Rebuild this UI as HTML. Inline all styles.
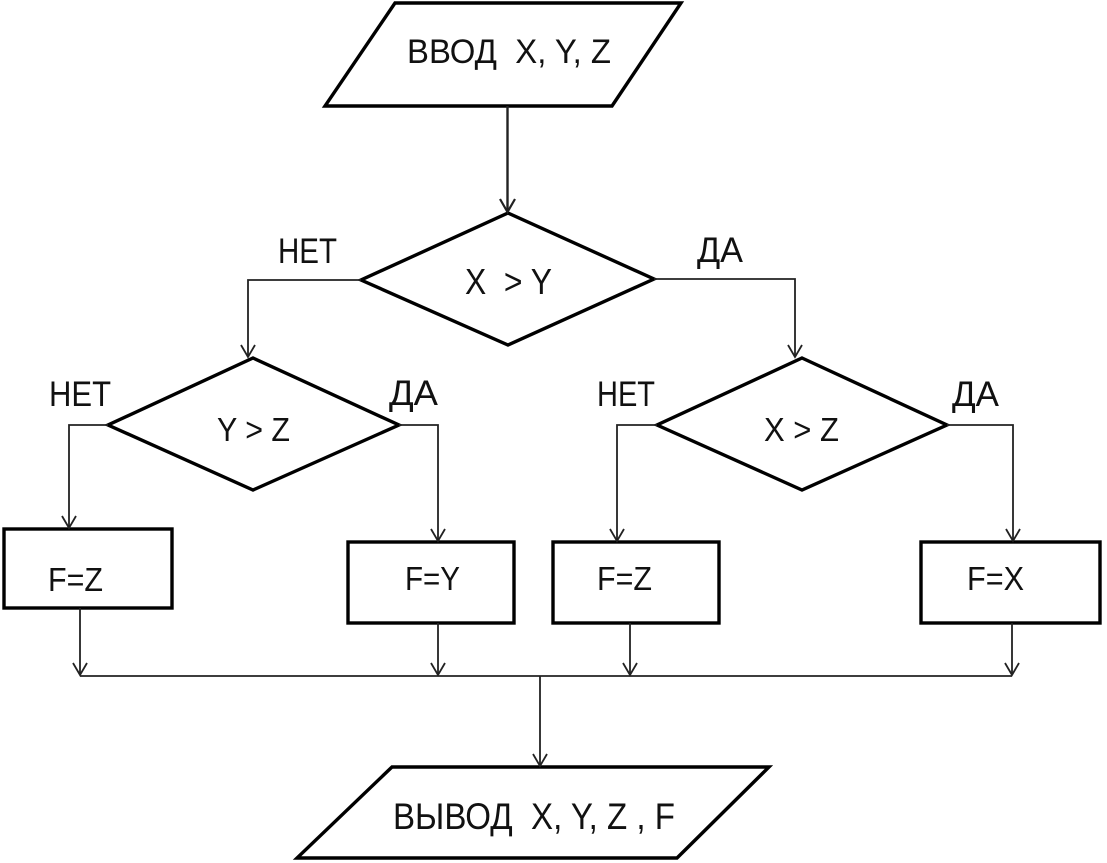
<!DOCTYPE html>
<html>
<head>
<meta charset="utf-8">
<style>
  html,body{margin:0;padding:0;background:#fff;}
  svg{display:block;}
  text{font-family:"Liberation Sans","DejaVu Sans",sans-serif;fill:#111;white-space:pre;}
</style>
</head>
<body>
<svg width="1107" height="863" viewBox="0 0 1107 863" xmlns="http://www.w3.org/2000/svg" xml:space="preserve">
  <rect width="1107" height="863" fill="#fff"/>

  <!-- Shapes -->
  <g fill="#fff" stroke="#000" stroke-width="3.4" stroke-linejoin="miter">
    <polygon points="395,3 681,3 612,106 325,106"/>
    <polygon points="508,213 654,279 508,345 361,280"/>
    <polygon points="253,358 399,425 253,490 108,425"/>
    <polygon points="802,358 947,425 802,490 657,425"/>
    <rect x="4" y="529" width="168" height="79"/>
    <rect x="348" y="542" width="166" height="81"/>
    <rect x="553" y="542" width="166" height="81"/>
    <rect x="921" y="542" width="179" height="81"/>
    <polygon points="392,767 769,767 677,858 297,858"/>
  </g>

  <!-- Connectors -->
  <g fill="none" stroke="#222" stroke-width="1.8">
    <line x1="507.5" y1="106" x2="507.5" y2="212" stroke-width="2.4"/>
    <polyline points="361,280 248,280 248,357"/>
    <polyline points="654,279 795,279 795,357"/>
    <polyline points="108,425 69,425 69,528"/>
    <polyline points="399,425 438,425 438,541"/>
    <polyline points="657,425 617,425 617,541"/>
    <polyline points="947,425 1013,425 1013,541"/>
    <line x1="80" y1="608" x2="80" y2="675"/>
    <line x1="438" y1="623" x2="438" y2="675"/>
    <line x1="630" y1="623" x2="630" y2="675"/>
    <line x1="1012" y1="623" x2="1012" y2="675"/>
    <line x1="80" y1="676" x2="1012" y2="676"/>
    <line x1="540" y1="676" x2="540" y2="766"/>
  </g>

  <!-- Arrowheads (open V) -->
  <g fill="none" stroke="#222" stroke-width="1.8">
    <polyline points="500,199 507.5,212 515,199" stroke-width="2.2"/>
    <polyline points="241,345 248,357 255,345"/>
    <polyline points="788,345 795,357 802,345"/>
    <polyline points="62,516 69,528 76,516"/>
    <polyline points="431,529 438,541 445,529"/>
    <polyline points="610,529 617,541 624,529"/>
    <polyline points="1006,529 1013,541 1020,529"/>
    <polyline points="73,663 80,675 87,663"/>
    <polyline points="431,663 438,675 445,663"/>
    <polyline points="623,663 630,675 637,663"/>
    <polyline points="1005,663 1012,675 1019,663"/>
    <polyline points="533,754 540,766 547,754"/>
  </g>

  <!-- Text -->
  <text x="407" y="63" font-size="34" textLength="204" lengthAdjust="spacingAndGlyphs">ВВОД  X, Y, Z</text>
  <text x="465" y="294" font-size="36" textLength="87" lengthAdjust="spacingAndGlyphs">X  &gt; Y</text>
  <text x="278" y="263" font-size="35" textLength="59" lengthAdjust="spacingAndGlyphs">НЕТ</text>
  <text x="697" y="262" font-size="35" textLength="46" lengthAdjust="spacingAndGlyphs">ДА</text>

  <text x="49" y="406" font-size="35" textLength="62" lengthAdjust="spacingAndGlyphs">НЕТ</text>
  <text x="389" y="405" font-size="35" textLength="49" lengthAdjust="spacingAndGlyphs">ДА</text>
  <text x="597" y="406" font-size="35" textLength="58" lengthAdjust="spacingAndGlyphs">НЕТ</text>
  <text x="952" y="406" font-size="35" textLength="47" lengthAdjust="spacingAndGlyphs">ДА</text>

  <text x="217" y="441" font-size="33" textLength="73" lengthAdjust="spacingAndGlyphs">Y &gt; Z</text>
  <text x="764" y="441" font-size="33" textLength="75" lengthAdjust="spacingAndGlyphs">X &gt; Z</text>

  <text x="48" y="591" font-size="33" textLength="55" lengthAdjust="spacingAndGlyphs">F=Z</text>
  <text x="405" y="590" font-size="33" textLength="55" lengthAdjust="spacingAndGlyphs">F=Y</text>
  <text x="597" y="590" font-size="33" textLength="55" lengthAdjust="spacingAndGlyphs">F=Z</text>
  <text x="967" y="590" font-size="33" textLength="57" lengthAdjust="spacingAndGlyphs">F=X</text>

  <text x="393" y="829" font-size="37" textLength="282" lengthAdjust="spacingAndGlyphs">ВЫВОД  X, Y, Z , F</text>
</svg>
</body>
</html>
